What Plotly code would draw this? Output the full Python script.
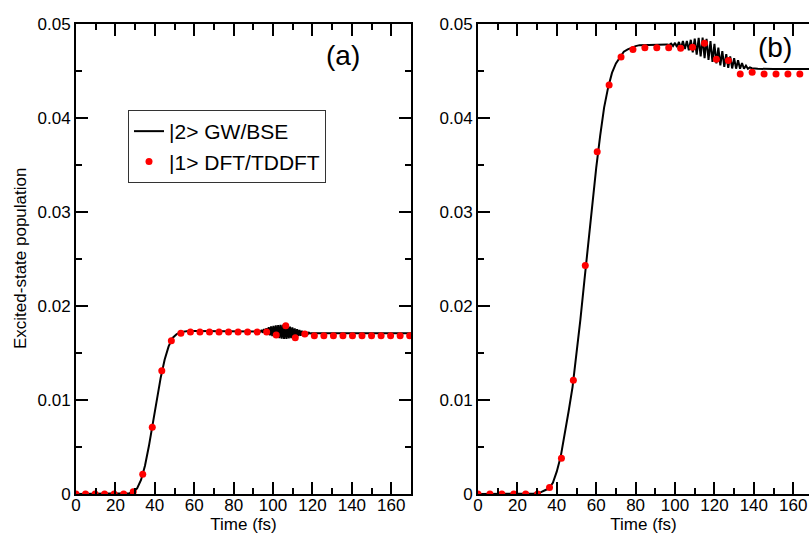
import plotly.graph_objects as go

# ---------------- data ----------------
# panel (a): TDDFT dots (time in fs, population)
a_dot_t = [0, 4.84, 9.68, 14.51, 19.35, 24.19, 29.03, 33.87, 38.70, 43.54, 48.38, 53.22,
           58.06, 62.89, 67.73, 72.57, 77.41, 82.25, 87.08, 91.92, 96.76, 101.60, 106.44,
           111.27, 116.11, 120.95, 125.79, 130.63, 135.46, 140.30, 145.14, 149.98, 154.82,
           159.65, 164.49, 169.33]
a_dot_p = [0, 0, 0, 0, 0, 0, 0.00025, 0.0021, 0.0071, 0.0131, 0.0163, 0.0171,
           0.01723, 0.01723, 0.01723, 0.01723, 0.01723, 0.01723, 0.01723, 0.01723, 0.01723,
           0.01691, 0.01791, 0.01663, 0.01702, 0.01684,
           0.01684, 0.01684, 0.01684, 0.01684, 0.01684, 0.01684, 0.01684, 0.01684, 0.01684, 0.01684]

# panel (a): GW/BSE line
a_line_t = [0, 10, 20, 25, 27, 29, 31, 33, 35, 37, 39, 41, 43, 45, 47, 49, 51, 53, 55, 57,
            60, 70, 80, 90,
            93.0, 93.6, 94.2, 94.8, 95.4, 96.0, 96.6, 97.2, 97.8, 98.4, 99.0, 99.6,
            100.2, 100.8, 101.4, 102.0, 102.6, 103.2, 103.8, 104.4, 105.0, 105.6, 106.2,
            106.8, 107.4, 108.0, 108.6, 109.2, 109.8, 110.4, 111.0, 111.6, 112.2, 112.8,
            113.4, 114.0, 114.6, 115.2, 115.8, 116.4, 117.0, 117.6, 118.2, 118.8, 119.4,
            125, 140, 155, 170]
a_line_p = [0, 0, 0, 0.00002, 0.00008, 0.0002, 0.0006, 0.0015, 0.0030, 0.0051, 0.0076,
            0.0101, 0.0124, 0.0143, 0.0157, 0.0166, 0.0170, 0.01722, 0.0173, 0.01733,
            0.01734, 0.01734, 0.01734, 0.01734,
            0.01733, 0.01727, 0.01745, 0.01715, 0.01756, 0.01705, 0.01765, 0.01696, 0.01775,
            0.01687, 0.01783, 0.01680, 0.01789, 0.01673, 0.01793, 0.01665, 0.01797, 0.01658,
            0.01799, 0.01652, 0.01800, 0.01650, 0.01796, 0.01651, 0.01789, 0.01654, 0.01782,
            0.01658, 0.01772, 0.01667, 0.01761, 0.01674, 0.01753, 0.01679, 0.01746, 0.01683,
            0.01738, 0.01687, 0.01731, 0.01694, 0.01723, 0.01701, 0.01717, 0.01707, 0.01710,
            0.0171, 0.0171, 0.0171, 0.0171]

# panel (b): TDDFT dots
b_dot_t = [0, 6.05, 12.10, 18.15, 24.20, 30.25, 36.30, 42.35, 48.40, 54.45, 60.50, 66.55,
           72.60, 78.65, 84.70, 90.75, 96.80, 102.85, 108.90, 114.95, 121.00, 127.05,
           133.10, 139.15, 145.20, 151.25, 157.30, 163.35]
b_dot_p = [0, 0, 0, 0, 0, 0, 0.0007, 0.0038, 0.0121, 0.0243, 0.0364, 0.0435, 0.0465,
           0.0473, 0.04748, 0.04748, 0.04748, 0.04741, 0.04752, 0.04794, 0.04624, 0.04613,
           0.04468, 0.04486, 0.04468, 0.04468, 0.04468, 0.04468]

# panel (b): GW/BSE line
b_line_t = [0, 10, 20, 25, 28, 30, 32, 34, 36, 38, 40, 42, 44, 46, 48, 50, 52, 54, 56, 58,
            60, 62, 64, 66, 68, 70, 72, 74, 76, 78, 80, 82, 86, 90, 93,
            96, 97, 98, 99, 100, 101, 102, 103, 104, 105, 106, 107, 108, 109, 110, 111,
            112, 113, 114, 115, 116, 117, 118, 119, 120, 121, 122, 123, 124, 125, 126,
            127, 128, 129, 130, 131, 132, 133, 134, 135, 136, 137, 138, 139,
            142, 150, 160, 168]
b_line_p = [0, 0, 0, 0, 0.00003, 0.0001, 0.0002, 0.0004, 0.0006, 0.0012, 0.0024, 0.0040,
            0.0062, 0.0088, 0.0114, 0.0148, 0.0186, 0.0227, 0.0268, 0.0308, 0.0347, 0.0381,
            0.0411, 0.0432, 0.0448, 0.0458, 0.0465, 0.04705, 0.0473, 0.0475, 0.04765,
            0.04775, 0.04779, 0.04782, 0.04783,
            0.04783, 0.04777, 0.04792, 0.04766, 0.04800, 0.04755, 0.04809, 0.04743, 0.04818,
            0.04733, 0.04820, 0.04721, 0.04832, 0.04698, 0.04845, 0.04674, 0.04853, 0.04654,
            0.04855, 0.04636, 0.04843, 0.04617, 0.04817, 0.04598, 0.04790, 0.04580, 0.04750,
            0.04560, 0.04711, 0.04545, 0.04680, 0.04534, 0.04655, 0.04527, 0.04635, 0.04525,
            0.04615, 0.04524, 0.04585, 0.04524, 0.04558, 0.04524, 0.04538, 0.04530,
            0.04523, 0.04522, 0.04522, 0.04522]

y_ticks = [0, 0.01, 0.02, 0.03, 0.04, 0.05]
y_tick_labels = ["0", "0.01", "0.02", "0.03", "0.04", "0.05"]
x_ticks = [0, 20, 40, 60, 80, 100, 120, 140, 160]

name_bse = "|2> GW/BSE"
name_tddft = "|1> DFT/TDDFT"

# ---------------- figure ----------------
FONT = "Liberation Sans, Arial, sans-serif"
LINE_C = "black"
DOT_C = "#ff0000"

fig = go.Figure()
fig.add_trace(go.Scatter(x=a_line_t, y=a_line_p, mode="lines", name=name_bse,
                         line=dict(color=LINE_C, width=2), xaxis="x", yaxis="y",
                         legendgroup="bse", showlegend=True))
fig.add_trace(go.Scatter(x=a_dot_t, y=a_dot_p, mode="markers", name=name_tddft,
                         marker=dict(color=DOT_C, size=7), xaxis="x", yaxis="y",
                         legendgroup="tddft", showlegend=True))
fig.add_trace(go.Scatter(x=b_line_t, y=b_line_p, mode="lines", name=name_bse,
                         line=dict(color=LINE_C, width=2), xaxis="x2", yaxis="y2",
                         legendgroup="bse", showlegend=False))
fig.add_trace(go.Scatter(x=b_dot_t, y=b_dot_p, mode="markers", name=name_tddft,
                         marker=dict(color=DOT_C, size=7), xaxis="x2", yaxis="y2",
                         legendgroup="tddft", showlegend=False))

W, H = 809, 536
ML, MR, MT, MB = 76, 0, 24, 42
PW = W - ML - MR

def xax(domain, rng, anchor):
    return dict(domain=domain, range=rng, anchor=anchor, tickvals=x_ticks,
                ticks="inside", ticklen=12, tickwidth=1.5, tickcolor="black",
                minor=dict(dtick=10, tick0=0, ticks="inside", ticklen=6, tickwidth=1.5,
                           tickcolor="black", showgrid=False),
                showline=True, linecolor="black", linewidth=2, mirror="allticks",
                showgrid=False, zeroline=False, automargin=False,
                ticklabelstandoff=-5,
                tickfont=dict(size=17, color="black", family=FONT),
                title=dict(text="Time (fs)", font=dict(size=17, color="black", family=FONT),
                           standoff=0))

def yax(domain_anchor, mirror):
    return dict(range=[0, 0.05], anchor=domain_anchor, tickvals=y_ticks,
                ticktext=y_tick_labels,
                ticks="inside", ticklen=12, tickwidth=1.5, tickcolor="black",
                minor=dict(dtick=0.005, tick0=0, ticks="inside", ticklen=6, tickwidth=1.5,
                           tickcolor="black", showgrid=False),
                showline=True, linecolor="black", linewidth=2, mirror=mirror,
                showgrid=False, zeroline=False, automargin=False,
                tickfont=dict(size=17, color="black", family=FONT))

fig.update_layout(
    width=W, height=H,
    margin=dict(l=ML, r=MR, t=MT, b=MB, pad=0),
    paper_bgcolor="white", plot_bgcolor="white",
    font=dict(family=FONT, color="black"),
    xaxis=xax([0, 335 / PW], [0, 170], "y"),
    yaxis=yax("x", "allticks"),
    xaxis2=xax([402 / PW, 1], [0, 168.0], "y2"),
    yaxis2=yax("x2", False),
    showlegend=True,
    legend=dict(x=(128 - ML) / PW, y=1 - (110 - MT) / 470, xanchor="left", yanchor="top",
                bgcolor="white", bordercolor="#333333", borderwidth=1,
                font=dict(size=21, color="black", family=FONT),
                itemwidth=30, tracegroupgap=0),
    annotations=[
        dict(text="(a)", x=135.5, y=0.0467, xref="x", yref="y", showarrow=False,
             font=dict(size=28, color="black", family=FONT)),
        dict(text="(b)", x=150.7, y=0.04745, xref="x2", yref="y2", showarrow=False,
             font=dict(size=28, color="black", family=FONT)),
        dict(text="Excited-state population", x=-(ML - 20) / PW, y=0.5, xref="paper",
             yref="paper", showarrow=False, textangle=-90, xanchor="center",
             yanchor="middle", font=dict(size=17, color="black", family=FONT)),
    ],
)

fig.write_html("out.html", config={"displayModeBar": False},
               post_script="document.body.style.margin='0';")
